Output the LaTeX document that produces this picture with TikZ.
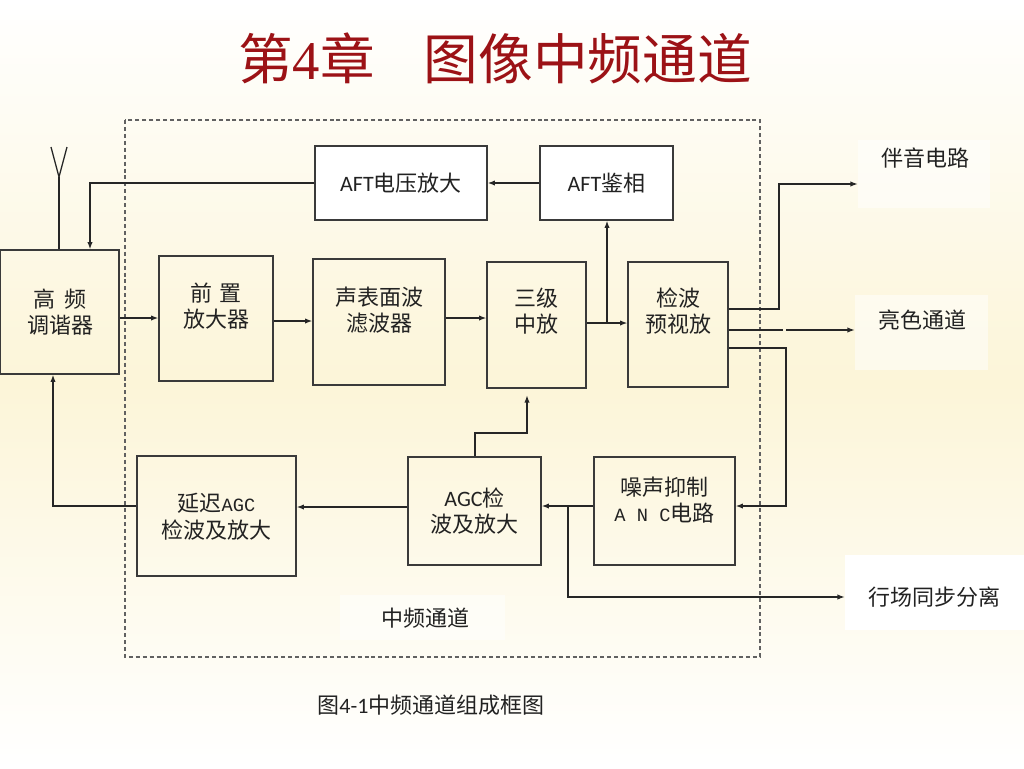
\documentclass[tikz,border=0pt]{standalone}
\usepackage{fontspec}
\setmainfont{Noto Sans CJK SC}
\newfontfamily\lat{Carlito}
\newfontfamily\ser{Liberation Serif}
\newfontfamily\mono{Liberation Mono}[Scale=0.85]
\usetikzlibrary{arrows.meta,calc}
\definecolor{boxc}{HTML}{3A3A3A}
\definecolor{linec}{HTML}{262626}
\definecolor{txtc}{HTML}{222222}
\definecolor{titlec}{HTML}{9C1216}
\definecolor{creamc}{RGB}{252,245,216}
\newcommand\bodyfont{\fontsize{16.5}{20}\selectfont}
\tikzset{
  box/.style={draw=boxc, line width=0.9pt, inner sep=0pt},
  wbox/.style={box, fill=white},
  txt/.style={align=center, inner sep=0pt, text=txtc, font=\bodyfont},
  line/.style={draw=linec, line width=0.95pt},
  arr/.style={line, -{Latex[length=5.5pt,width=4pt]}},
  lbl/.style={fill=white, fill opacity=0.5, inner sep=0pt},
  dashbox/.style={draw=boxc!80, line width=0.8pt, dash pattern=on 3pt off 2.2pt},
}
\begin{document}
\begin{tikzpicture}[x=0.75pt,y=-0.75pt]
% background
\shade[top color=white, bottom color=white, middle color=creamc] (0,0) rectangle (1024,768);
\useasboundingbox (0,0) rectangle (1024,768);

% title
\node[inner sep=0pt, text=titlec, font=\fontsize{41}{41}\selectfont] (title) at (495,58) {第{\ser 4}章\hspace{0.9em}图像中频通道};

% dashed frame
\draw[dashbox] (125,120) rectangle (760,657);

% label backgrounds (right side and frame label)
\node[lbl, minimum width=99pt, minimum height=51pt] (byB) at (924,174) {};
\node[lbl, minimum width=99.75pt, minimum height=56.25pt] (lsB) at (921.5,332.5) {};
\node[fill=white, inner sep=0pt, minimum width=134.25pt, minimum height=56.25pt] (hcB) at (934.5,592.5) {};
\node[lbl, minimum width=123.75pt, minimum height=33.75pt] (zpB) at (422.5,617.5) {};

% boxes
\node[box, minimum width=89.25pt, minimum height=93pt] (hf) at (59.5,312) {};
\node[box, minimum width=85.5pt, minimum height=93.75pt] (qz) at (216,318.5) {};
\node[box, minimum width=99pt, minimum height=94.5pt] (sb) at (379,322) {};
\node[box, minimum width=74.25pt, minimum height=94.5pt] (sj) at (536.5,325) {};
\node[box, minimum width=75pt, minimum height=93.75pt] (jb) at (678,324.5) {};
\node[wbox, minimum width=129pt, minimum height=55.5pt] (aftv) at (401,183) {};
\node[wbox, minimum width=99.75pt, minimum height=55.5pt] (aftj) at (606.5,183) {};
\node[box, minimum width=119.25pt, minimum height=90pt] (yc) at (216.5,516) {};
\node[box, minimum width=99.75pt, minimum height=81pt] (agc) at (474.5,511) {};
\node[box, minimum width=105.75pt, minimum height=81pt] (anc) at (664.5,511) {};

% box texts
\node[txt] (hfT) at (60,312) {高\hspace{0.45em}频\\调谐器};
\node[txt] (qzT) at (216,306) {前\hspace{0.3em}置\\放大器};
\node[txt] (sbT) at (379,310) {声表面波\\滤波器};
\node[txt] (sjT) at (536.5,311) {三级\\中放};
\node[txt] (jbT) at (678,311) {检波\\预视放};
\node[txt] (aftvT) at (401,183) {{\lat AFT}电压放大};
\node[txt] (aftjT) at (606.5,183) {{\lat AFT}鉴相};
\node[txt] (ycT) at (216.5,517) {延迟{\mono AGC}\\检波及放大};
\node[txt] (agcT) at (474.5,511) {{\lat AGC}检\\波及放大};
\node[txt] (ancT) at (664.5,500) {噪声抑制\\{\mono A\ N\ C}电路};

% outside labels
\node[txt] (by) at (925,158) {伴音电路};
\node[txt] (ls) at (922,320) {亮色通道};
\node[txt] (hc) at (934,597) {行场同步分离};
\node[txt] (zp) at (425,618) {中频通道};
\node[txt] (cap) at (431,705) {图{\lat 4-1}中频通道组成框图};

% antenna
\coordinate (antV) at (59,177);
\coordinate (antL) at (51,147);
\coordinate (antR) at (67,147);
\draw[line] (antL) -- (antV) -- (antR);
\draw[line] (antV) -- (hf.north -| antV);

% AFT loop
\coordinate (aftx) at (90,183);
\draw[arr] (aftj.west) -- (aftv.east);
\draw[arr] (aftv.west) -- (aftx) -- (hf.north -| aftx);

% main signal chain
\draw[arr] (hf.east |- 0,318) -- (qz.west |- 0,318);
\draw[arr] (qz.east |- 0,321) -- (sb.west |- 0,321);
\draw[arr] (sb.east |- 0,318) -- (sj.west |- 0,318);
\draw[arr] (sj.east |- 0,323) -- (jb.west |- 0,323);
\coordinate (br) at (607,323);
\draw[arr] (br) -- (aftj.south -| br);

% detector outputs
\coordinate (o1) at (779,309);
\coordinate (o1t) at (779,184);
\draw[arr] (jb.east |- o1) -- (o1) -- (o1t) -- (byB.west |- o1t);
\coordinate (o2a) at (783,330);
\coordinate (o2b) at (786,330);
\draw[line] (jb.east |- o2a) -- (o2a);
\draw[arr] (o2b) -- (lsB.west |- o2b);
\coordinate (o3) at (786,348);
\coordinate (o3b) at (786,506);
\draw[arr] (jb.east |- o3) -- (o3) -- (o3b) -- (anc.east |- o3b);

% ANC -> AGC, sync branch
\draw[arr] (anc.west |- 0,506) -- (agc.east |- 0,506);
\coordinate (s1) at (568,506);
\coordinate (s2) at (568,597);
\draw[arr] (s1) -- (s2) -- (hcB.west |- s2);

% AGC -> IF amp
\coordinate (g1) at (475,433);
\coordinate (g2) at (527,433);
\draw[arr, shorten >=5pt] (agc.north -| g1) -- (g1) -- (g2) -- (sj.south -| g2);

% AGC -> delayed AGC -> tuner
\draw[arr] (agc.west |- 0,507) -- (yc.east |- 0,507);
\coordinate (d1) at (53,506);
\draw[arr] (yc.west |- d1) -- (d1) -- (hf.south -| d1);
\end{tikzpicture}
\end{document}
